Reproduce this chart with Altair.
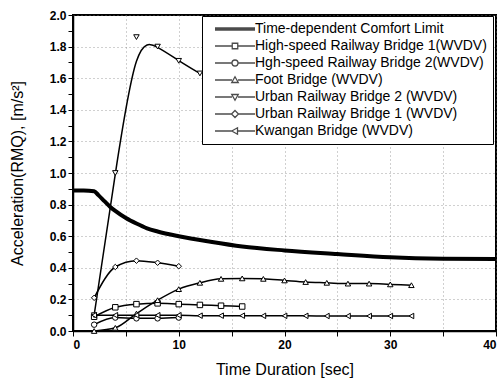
import altair as alt
import pandas as pd

# ---- data ----
series_names = [
    "Time-dependent Comfort Limit",
    "High-speed Railway Bridge 1(WVDV)",
    "Hgh-speed Railway Bridge 2(WVDV)",
    "Foot Bridge (WVDV)",
    "Urban Railway Bridge 2 (WVDV)",
    "Urban Railway Bridge 1 (WVDV)",
    "Kwangan Bridge (WVDV)",
]

limit_t = [0, 1, 2, 2.4, 3, 3.5, 4, 5, 6, 7, 8, 10, 13, 16, 20, 25, 30, 35, 40]
limit_a = [0.89, 0.89, 0.885, 0.86, 0.82, 0.787, 0.76, 0.715, 0.68, 0.65, 0.63,
           0.60, 0.565, 0.535, 0.51, 0.487, 0.466, 0.457, 0.455]

hs1_t = [2, 4, 6, 8, 10, 12, 14, 16]
hs1_a = [0.09, 0.15, 0.17, 0.175, 0.17, 0.165, 0.16, 0.155]

hs2_t = [2, 4, 6, 8, 10]
hs2_a = [0.04, 0.085, 0.08, 0.08, 0.085]

foot_t = [2, 4, 6, 8, 10, 12, 14, 16, 18, 20, 22, 24, 26, 28, 30, 32]
foot_a = [0.0, 0.02, 0.11, 0.195, 0.265, 0.305, 0.33, 0.333, 0.33, 0.32,
          0.31, 0.305, 0.30, 0.30, 0.295, 0.29]

urb2_t = [2, 4, 6, 8, 10, 12]
urb2_a = [0.1, 1.0, 1.86, 1.8, 1.71, 1.63]

urb1_t = [2, 4, 6, 8, 10]
urb1_a = [0.21, 0.405, 0.445, 0.432, 0.41]

kw_t = [2, 4, 6, 8, 10, 12, 14, 16, 18, 20, 22, 24, 26, 28, 30, 32]
kw_a = [0.10, 0.10, 0.10, 0.10, 0.10, 0.097, 0.097, 0.097, 0.096, 0.096,
        0.096, 0.095, 0.095, 0.095, 0.095, 0.095]

x_ticks = [0, 5, 10, 15, 20, 25, 30, 35, 40]
y_ticks = [i / 10 for i in range(21)]

# ---- tables ----
limit_df = pd.DataFrame({"t": limit_t, "a": limit_a, "s": series_names[0]})
meas = [
    (series_names[1], hs1_t, hs1_a),
    (series_names[2], hs2_t, hs2_a),
    (series_names[3], foot_t, foot_a),
    (series_names[4], urb2_t, urb2_a),
    (series_names[5], urb1_t, urb1_a),
    (series_names[6], kw_t, kw_a),
]
meas_df = pd.concat(
    [pd.DataFrame({"t": t, "a": a, "s": n}) for n, t, a in meas], ignore_index=True
)

FONT = "Liberation Sans"

x_enc = alt.X(
    "t:Q",
    scale=alt.Scale(domain=[0, 40], nice=False),
    axis=alt.Axis(
        values=x_ticks,
        labelExpr="datum.value % 10 == 0 ? datum.label : ''",
        title="Time Duration  [sec]",
        titleFontSize=16, titleFontWeight="normal", titleFont=FONT,
        titlePadding=11,
        labelFont=FONT, labelFontSize=12, labelFontWeight="bold",
        labelColor="black", titleColor="black",
        tickSize=5, tickColor="black", domainColor="black", domainWidth=1.5,
        grid=True, gridDash=[1, 3], gridColor="#777", gridOpacity=0.7,
        labelPadding=3,
    ),
)
y_enc = alt.Y(
    "a:Q",
    scale=alt.Scale(domain=[0, 2], nice=False),
    axis=alt.Axis(
        values=y_ticks,
        labelExpr="round(datum.value*10) % 2 == 0 ? format(datum.value, '.1f') : ''",
        title="Acceleration(RMQ),  [m/s²]",
        titleFontSize=16, titleFontWeight="normal", titleFont=FONT,
        titlePadding=24,
        labelFont=FONT, labelFontSize=12, labelFontWeight="bold",
        labelColor="black", titleColor="black",
        tickSize=5, tickColor="black", domainColor="black", domainWidth=1.5,
        grid=True, gridDash=[1, 3], gridColor="#777",
        gridOpacity={"condition": {"test": "round(datum.value*10) % 2 == 0", "value": 0.7}, "value": 0},
        labelPadding=2,
    ),
)

limit_line = alt.Chart(limit_df).mark_line(
    color="black", strokeWidth=4, interpolate="monotone"
).encode(x=x_enc, y=y_enc)

other_lines = alt.Chart(meas_df).transform_filter(
    alt.datum.s != series_names[4]
).mark_line(color="black", strokeWidth=1.5, interpolate="monotone").encode(
    x=x_enc, y=y_enc, detail="s:N"
)

urb2_line = alt.Chart(meas_df).transform_filter(
    alt.datum.s == series_names[4]
).mark_line(color="black", strokeWidth=1.5, interpolate="basis").encode(
    x=x_enc, y=y_enc
)

points = alt.Chart(meas_df).mark_point(
    fill="white", stroke="black", strokeWidth=1, size=30, opacity=1, filled=False,
    fillOpacity=1,
).encode(
    x=x_enc, y=y_enc,
    shape=alt.Shape(
        "s:N",
        scale=alt.Scale(
            domain=series_names[1:],
            range=["square", "circle", "triangle-up", "triangle-down", "diamond", "triangle-left"],
        ),
        legend=None,
    ),
)

# legend symbols: line with marker (unit coords, r = 5px)
seg = "M-4,0H-0.6M0.6,0H4"
legend_paths = [
    "M-4,-0.2H4M-4,0H4M-4,0.2H4",
    seg + "M-0.55,-0.55H0.55V0.55H-0.55Z",
    seg + "M-0.6,0A0.6,0.6 0 1,0 0.6,0A0.6,0.6 0 1,0 -0.6,0Z",
    seg + "M0,-0.65L0.65,0.5H-0.65Z",
    seg + "M0,0.65L0.65,-0.5H-0.65Z",
    seg + "M0,-0.7L0.7,0L0,0.7L-0.7,0Z",
    seg + "M-0.65,0L0.5,-0.65V0.65Z",
]

legend_layer = alt.Chart(meas_df).transform_filter("datum.t < -100").mark_point(
    color="black", filled=False, size=100
).encode(
    x=x_enc, y=y_enc,
    shape=alt.Shape(
        "s:N",
        scale=alt.Scale(domain=series_names, range=legend_paths),
        legend=alt.Legend(
            title=None, orient="none", legendX=129, legendY=1,
            padding=6, fillColor="white", strokeColor="black",
            labelFont=FONT, labelFontSize=14, labelColor="black", labelLimit=400,
            symbolSize=100, symbolStrokeWidth=1.3, symbolStrokeColor="black",
            symbolFillColor="white",
            symbolOffset=20, labelOffset=13, rowPadding=3,
        ),
    ),
)

chart = alt.layer(
    limit_line, other_lines, urb2_line, points, legend_layer
).resolve_scale(shape="independent").properties(
    width=423, height=316,
    autosize=alt.AutoSizeParams(type="none"),
    padding={"left": 73, "top": 15, "right": 6, "bottom": 50},
    background="white",
).configure_view(stroke="black", strokeWidth=2)

chart.save("out.html", embed_options={"renderer": "svg", "actions": False})
